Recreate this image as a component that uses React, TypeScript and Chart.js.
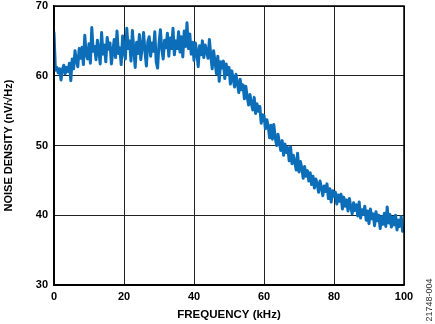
import React, { useEffect, useRef } from "react";
import { Chart, registerables } from "chart.js";

Chart.register(...registerables);

// Frequency grid: samples every 0.4 kHz from 0 to 100 kHz
const FREQ_START = 0;
const FREQ_STEP = 0.4;

// Noise density readings (nV/√Hz), in 4 kHz rows
const NOISE: number[] = [
  66.2, 60.8, 61.2, 60.4, 61.0, 59.4, 60.9, 61.5, 60.3, 61.2,
  60.6, 61.8, 59.3, 62.4, 61.0, 63.6, 62.2, 61.3, 63.9, 62.5,
  64.1, 61.6, 65.8, 63.0, 62.4, 64.6, 61.8, 66.9, 63.5, 64.2,
  62.3, 65.1, 63.6, 61.7, 66.2, 63.1, 64.4, 62.0, 65.5, 63.8,
  64.7, 61.7, 63.4, 65.2, 62.6, 66.4, 63.2, 64.0, 61.6, 65.7,
  63.4, 62.4, 66.8, 63.9, 65.0, 62.1, 66.5, 63.8, 61.2, 64.8,
  63.2, 65.9, 62.3, 64.1, 66.2, 63.4, 61.4, 64.9, 65.6, 62.8,
  64.7, 63.5, 66.3, 62.0, 61.1, 64.6, 66.6, 63.8, 62.4, 65.1,
  64.0, 66.1, 62.8, 65.4, 63.9, 66.8, 63.0, 65.0, 63.9, 66.3,
  63.4, 65.6, 62.7, 66.4, 64.2, 67.6, 63.9, 66.0, 63.1, 64.8,
  62.2, 64.7, 63.4, 61.3, 64.3, 63.0, 65.0, 62.6, 64.4, 63.5,
  62.5, 65.2, 62.9, 61.0, 63.6, 62.1, 60.3, 62.8, 59.2, 62.0,
  61.1, 62.1, 59.6, 61.7, 60.3, 61.2, 58.8, 60.7, 59.5, 58.4,
  60.2, 58.9, 57.6, 59.5, 58.0, 58.7, 56.7, 58.5, 57.0, 55.8,
  57.3, 56.0, 55.1, 56.9, 54.6, 56.0, 54.9, 55.6, 53.2, 54.4,
  54.3, 52.4, 53.7, 52.8, 51.1, 52.9, 50.9, 53.0, 51.2, 50.0,
  51.6, 50.4, 49.3, 50.7, 48.6, 50.2, 49.0, 49.7, 47.8, 49.8,
  47.4, 48.6, 47.6, 46.5, 48.9, 46.2, 47.7, 46.8, 45.3, 47.0,
  45.6, 46.4, 44.9, 46.1, 44.4, 45.6, 43.9, 45.2, 44.5, 43.3,
  44.9, 44.0, 42.8, 44.2, 43.4, 44.5, 42.4, 43.8, 41.9, 43.5,
  42.7, 43.3, 41.6, 42.9, 42.0, 43.0, 40.9, 42.6, 41.3, 42.2,
  40.6, 42.4, 41.2, 40.2, 41.8, 40.7, 41.5, 39.9, 41.9, 39.6,
  40.8, 40.1, 41.3, 39.3, 40.6, 38.8, 40.9, 39.5, 40.2, 38.5,
  40.5, 39.2, 40.0, 38.1, 39.8, 38.7, 40.3, 38.4, 41.2, 38.9,
  40.1, 38.3, 39.7, 38.6, 40.0, 37.9, 39.3, 38.4, 39.8, 37.7,
  38.2,
];

const X_TICKS = [0, 20, 40, 60, 80, 100];
const Y_TICKS = [30, 40, 50, 60, 70];
const X_TITLE = "FREQUENCY (kHz)";
const Y_TITLE = "NOISE DENSITY (nV/√Hz)";
const FIG_ID = "21748-004";

const FONT = "'Liberation Sans', Arial, Helvetica, sans-serif";

export default function App() {
  const ref = useRef<HTMLCanvasElement | null>(null);

  useEffect(() => {
    if (!ref.current) return;
    const points = NOISE.map((v, i) => ({ x: FREQ_START + i * FREQ_STEP, y: v }));

    const figIdPlugin = {
      id: "figId",
      afterDraw(chart: any) {
        const ctx = chart.ctx;
        ctx.save();
        ctx.translate(430, 300);
        ctx.rotate(-Math.PI / 2);
        ctx.font = `9px ${FONT}`;
        ctx.fillStyle = "#333";
        ctx.textAlign = "center";
        ctx.textBaseline = "middle";
        ctx.fillText(FIG_ID, 0, 0);
        ctx.restore();
      },
    };

    const chart = new Chart(ref.current, {
      type: "line",
      data: {
        datasets: [
          {
            data: points,
            borderColor: "#0C6EB9",
            borderWidth: 3,
            borderJoinStyle: "round",
            borderCapStyle: "round",
            pointRadius: 0,
            tension: 0,
            fill: false,
          },
        ],
      },
      options: {
        animation: false,
        responsive: false,
        maintainAspectRatio: false,
        parsing: false as any,
        layout: { padding: { top: 6, right: 31, left: 0, bottom: 0 } },
        plugins: {
          legend: { display: false },
          tooltip: { enabled: false },
        },
        scales: {
          x: {
            type: "linear",
            min: 0,
            max: 100,
            afterBuildTicks: (s: any) => {
              s.ticks = X_TICKS.map((v) => ({ value: v }));
            },
            afterFit: (s: any) => {
              s.height = 39;
              s.paddingLeft = 0;
              s.paddingRight = 0;
            },
            ticks: {
              color: "#000",
              font: { family: FONT, size: 11, weight: "bold" },
              padding: 5,
              maxRotation: 0,
            },
            grid: { color: "#222", lineWidth: 1, drawTicks: false },
            border: { color: "#000", width: 1.5 },
            title: {
              display: true,
              text: X_TITLE,
              color: "#000",
              font: { family: FONT, size: 11.5, weight: "bold" },
              padding: { top: 0, bottom: 2 },
            },
          },
          y: {
            type: "linear",
            min: 30,
            max: 70,
            afterBuildTicks: (s: any) => {
              s.ticks = Y_TICKS.map((v) => ({ value: v }));
            },
            afterFit: (s: any) => {
              s.width = 54;
              s.paddingTop = 0;
              s.paddingBottom = 0;
            },
            ticks: {
              color: "#000",
              font: { family: FONT, size: 11, weight: "bold" },
              padding: 6,
            },
            grid: { color: "#222", lineWidth: 1, drawTicks: false },
            border: { color: "#000", width: 1.5 },
            title: {
              display: true,
              text: Y_TITLE,
              color: "#000",
              font: { family: FONT, size: 11, weight: "bold" },
              padding: { top: 2, bottom: 0 },
            },
          },
        },
      },
      plugins: [
        figIdPlugin,
        {
          id: "frame",
          afterDraw(chart: any) {
            const { ctx, chartArea } = chart;
            ctx.save();
            ctx.strokeStyle = "#000";
            ctx.lineWidth = 1.5;
            ctx.strokeRect(chartArea.left, chartArea.top, chartArea.right - chartArea.left, chartArea.bottom - chartArea.top);
            ctx.restore();
          },
        },
      ],
    });
    return () => chart.destroy();
  }, []);

  return (
    <div style={{ position: "absolute", left: 0, top: 0, width: 435, height: 324, background: "#fff" }}>
      <canvas ref={ref} width={435} height={324} style={{ width: 435, height: 324, display: "block" }} />
    </div>
  );
}
